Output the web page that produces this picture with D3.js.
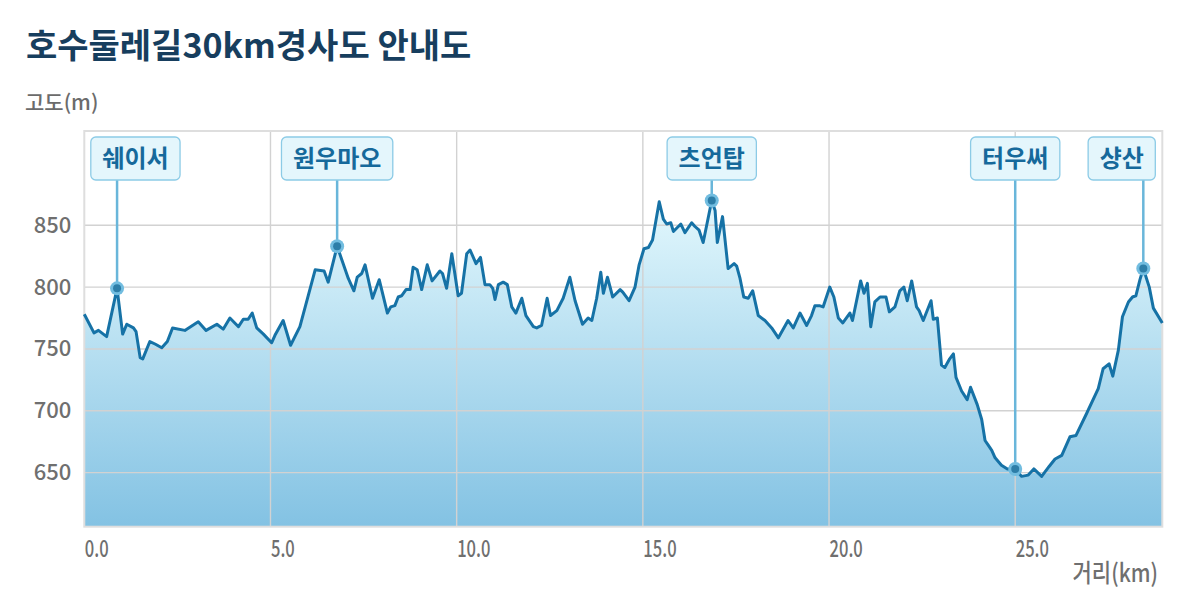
<!DOCTYPE html>
<html><head><meta charset="utf-8">
<script src="https://cdn.jsdelivr.net/npm/d3@7"></script>
<style>
html,body{margin:0;padding:0;background:#fff;}
svg{display:block;font-family:"Noto Sans CJK KR","Noto Sans",sans-serif;}
</style></head>
<body><svg id="c" width="1200" height="600"></svg>
<script>
// ---- data ----
const distanceKm = [0.00,0.26,0.38,0.60,0.88,1.03,1.14,1.32,1.39,1.50,1.57,1.76,1.90,2.08,2.23,2.37,2.70,3.06,3.27,3.56,3.73,3.91,4.14,4.27,4.40,4.51,4.63,4.81,5.03,5.12,5.34,5.54,5.79,6.20,6.44,6.55,6.79,7.09,7.24,7.33,7.45,7.54,7.74,7.92,8.14,8.23,8.34,8.43,8.52,8.64,8.75,8.83,8.94,9.06,9.21,9.34,9.55,9.62,9.73,9.87,9.95,10.04,10.13,10.27,10.36,10.52,10.64,10.76,10.89,10.97,11.03,11.12,11.25,11.36,11.48,11.59,11.75,11.86,12.06,12.15,12.28,12.43,12.52,12.69,12.86,13.04,13.18,13.38,13.53,13.63,13.76,13.87,13.94,14.05,14.19,14.39,14.46,14.63,14.79,14.90,15.03,15.15,15.26,15.44,15.55,15.64,15.75,15.82,16.02,16.13,16.31,16.40,16.51,16.62,16.85,16.94,17.00,17.14,17.29,17.45,17.52,17.61,17.71,17.83,17.95,18.10,18.28,18.46,18.64,18.90,19.04,19.22,19.40,19.53,19.62,19.74,19.84,20.02,20.13,20.25,20.37,20.56,20.63,20.85,20.94,21.03,21.12,21.23,21.37,21.53,21.62,21.77,21.90,22.01,22.10,22.22,22.35,22.42,22.53,22.74,22.80,22.91,23.02,23.11,23.24,23.34,23.41,23.56,23.71,23.80,23.98,24.10,24.19,24.28,24.37,24.46,24.63,24.79,25.00,25.17,25.35,25.50,25.71,25.91,26.07,26.25,26.47,26.63,26.92,27.23,27.36,27.52,27.62,27.77,27.88,28.04,28.15,28.24,28.35,28.44,28.60,28.71,28.95];
const elevationM = [778,763,765,760,799,762,770,767,764,743,742,756,754,751,756,767,765,772,765,770,766,775,768,774,774,779,767,762,755,761,773,753,768,814,813,804,833,807,797,808,811,818,791,806,779,784,785,792,793,798,798,816,814,798,818,805,813,811,799,827,811,793,795,827,830,819,824,802,802,799,790,802,804,802,784,779,791,777,768,767,769,791,777,781,791,808,789,770,775,773,791,812,795,808,792,798,796,789,800,818,831,832,838,869,855,851,852,845,851,844,852,849,846,836,870,862,836,857,815,819,817,807,792,791,797,777,773,767,759,773,767,779,769,777,785,785,784,800,792,775,771,779,773,805,795,803,768,788,792,792,780,784,797,800,789,805,784,781,773,789,774,775,737,735,742,746,727,716,709,719,705,693,676,672,668,662,656,653,653,647,648,653,647,655,661,664,679,680,698,718,734,738,728,749,776,788,792,793,806,815,800,783,771];
const yTicks = [650,700,750,800,850];
const xTicks = [0,5,10,15,20,25];
const markerNames = ["쉐이서","원우마오","츠언탑","터우써","샹산"];
const markerKm = [0.88,6.79,16.85,25.00,28.44];
const markerElev = [799,833,870,653,815];
const titleText = "호수둘레길30km경사도 안내도";
const yTitle = "고도(m)";
const xTitle = "거리(km)";

// ---- chart ----
const svg = d3.select("#c");
const L=84.3, R=1162.3, T=131, B=526.7;
const x = d3.scaleLinear().domain([0,28.95]).range([L,R]);
const y = d3.scaleLinear().domain([606.3,926.2]).range([B,T]);
const pts = distanceKm.map((d,i)=>({d, e:elevationM[i]}));

const defs = svg.append("defs");
const grad = defs.append("linearGradient").attr("id","g")
  .attr("gradientUnits","userSpaceOnUse").attr("x1",0).attr("x2",0)
  .attr("y1",y(872)).attr("y2",B);
grad.append("stop").attr("offset","0%").attr("stop-color","#e3f8fd");
grad.append("stop").attr("offset","100%").attr("stop-color","#83c2e3");

svg.append("text").attr("x",26).attr("y",58).attr("font-size",34).attr("font-weight","bold")
  .attr("fill","#173e5e").text(titleText);
svg.append("text").attr("x",25).attr("y",110).attr("font-size",21).attr("font-weight","500")
  .attr("fill","#6b6b6b").text(yTitle);

// area
svg.append("path").datum(pts)
  .attr("d", d3.area().x(p=>x(p.d)).y0(B).y1(p=>y(p.e)))
  .attr("fill","url(#g)");

// grid
const grid = svg.append("g");
grid.selectAll(".h").data(yTicks).join("line")
  .attr("x1",L).attr("x2",R).attr("y1",d=>y(d)).attr("y2",d=>y(d))
  .attr("stroke","#d2d2d2").attr("stroke-width",1.4);
grid.selectAll(".v").data(xTicks.filter(d=>d>0)).join("line")
  .attr("y1",T).attr("y2",B).attr("x1",d=>x(d)).attr("x2",d=>x(d))
  .attr("stroke","#d2d2d2").attr("stroke-width",1.4);
svg.append("rect").attr("x",L).attr("y",T).attr("width",R-L).attr("height",B-T)
  .attr("fill","none").attr("stroke","#dedede").attr("stroke-width",2);

// axes
const yAxis = svg.append("g").attr("transform",`translate(${L},0)`)
  .call(d3.axisLeft(y).tickValues(yTicks).tickSize(0).tickPadding(13).tickFormat(d3.format("d")));
yAxis.select(".domain").remove();
yAxis.selectAll("text").attr("font-size",22).attr("fill","#6f6f6f")
  .attr("font-family","'Noto Sans CJK KR',sans-serif").attr("font-weight","500");

const xAxis = svg.append("g").attr("transform",`translate(0,${B})`)
  .call(d3.axisBottom(x).tickValues(xTicks).tickSize(0).tickPadding(0).tickFormat(d3.format(".1f")));
xAxis.select(".domain").remove();
xAxis.selectAll(".tick text").attr("text-anchor","start").attr("dy",0).attr("y",30)
  .attr("font-size",23).attr("fill","#6f6f6f").attr("font-weight","500")
  .attr("font-family","'Noto Sans CJK KR',sans-serif")
  .attr("transform","scale(0.72,1)");

svg.append("text").attr("text-anchor","end")
  .attr("transform","translate(1158,582) scale(0.84,1)")
  .attr("font-size",25).attr("font-weight","500").attr("fill","#6f6f6f").text(xTitle);

// line
svg.append("path").datum(pts)
  .attr("d", d3.line().x(p=>x(p.d)).y(p=>y(p.e)))
  .attr("fill","none").attr("stroke","#1672a6").attr("stroke-width",3)
  .attr("stroke-linejoin","round");

// markers
const boxTop=137, boxH=43;
markerNames.forEach((name,i)=>{
  const mx=x(markerKm[i]), my=y(markerElev[i]);
  svg.append("line").attr("x1",mx).attr("x2",mx).attr("y1",boxTop+boxH).attr("y2",my)
    .attr("stroke","#69b6da").attr("stroke-width",2.5);
  svg.append("circle").attr("cx",mx).attr("cy",my).attr("r",7).attr("fill","#72bde0");
  svg.append("circle").attr("cx",mx).attr("cy",my).attr("r",4).attr("fill","#2d7ea8");
  const g = svg.append("g");
  const rect = g.append("rect");
  const t = g.append("text").attr("font-size",24).attr("font-weight","bold")
    .attr("fill","#16699b").attr("text-anchor","middle").text(name);
  const w = t.node().getComputedTextLength()+23;
  let cx = Math.max(L+6.5+w/2, Math.min(R-7-w/2, mx));
  t.attr("x",cx).attr("y",boxTop+boxH/2+8.5);
  rect.attr("x",cx-w/2).attr("y",boxTop).attr("width",w).attr("height",boxH)
    .attr("rx",5).attr("fill","#e4f6fc").attr("stroke","#8ccbe6").attr("stroke-width",1.3);
});
</script></body></html>
